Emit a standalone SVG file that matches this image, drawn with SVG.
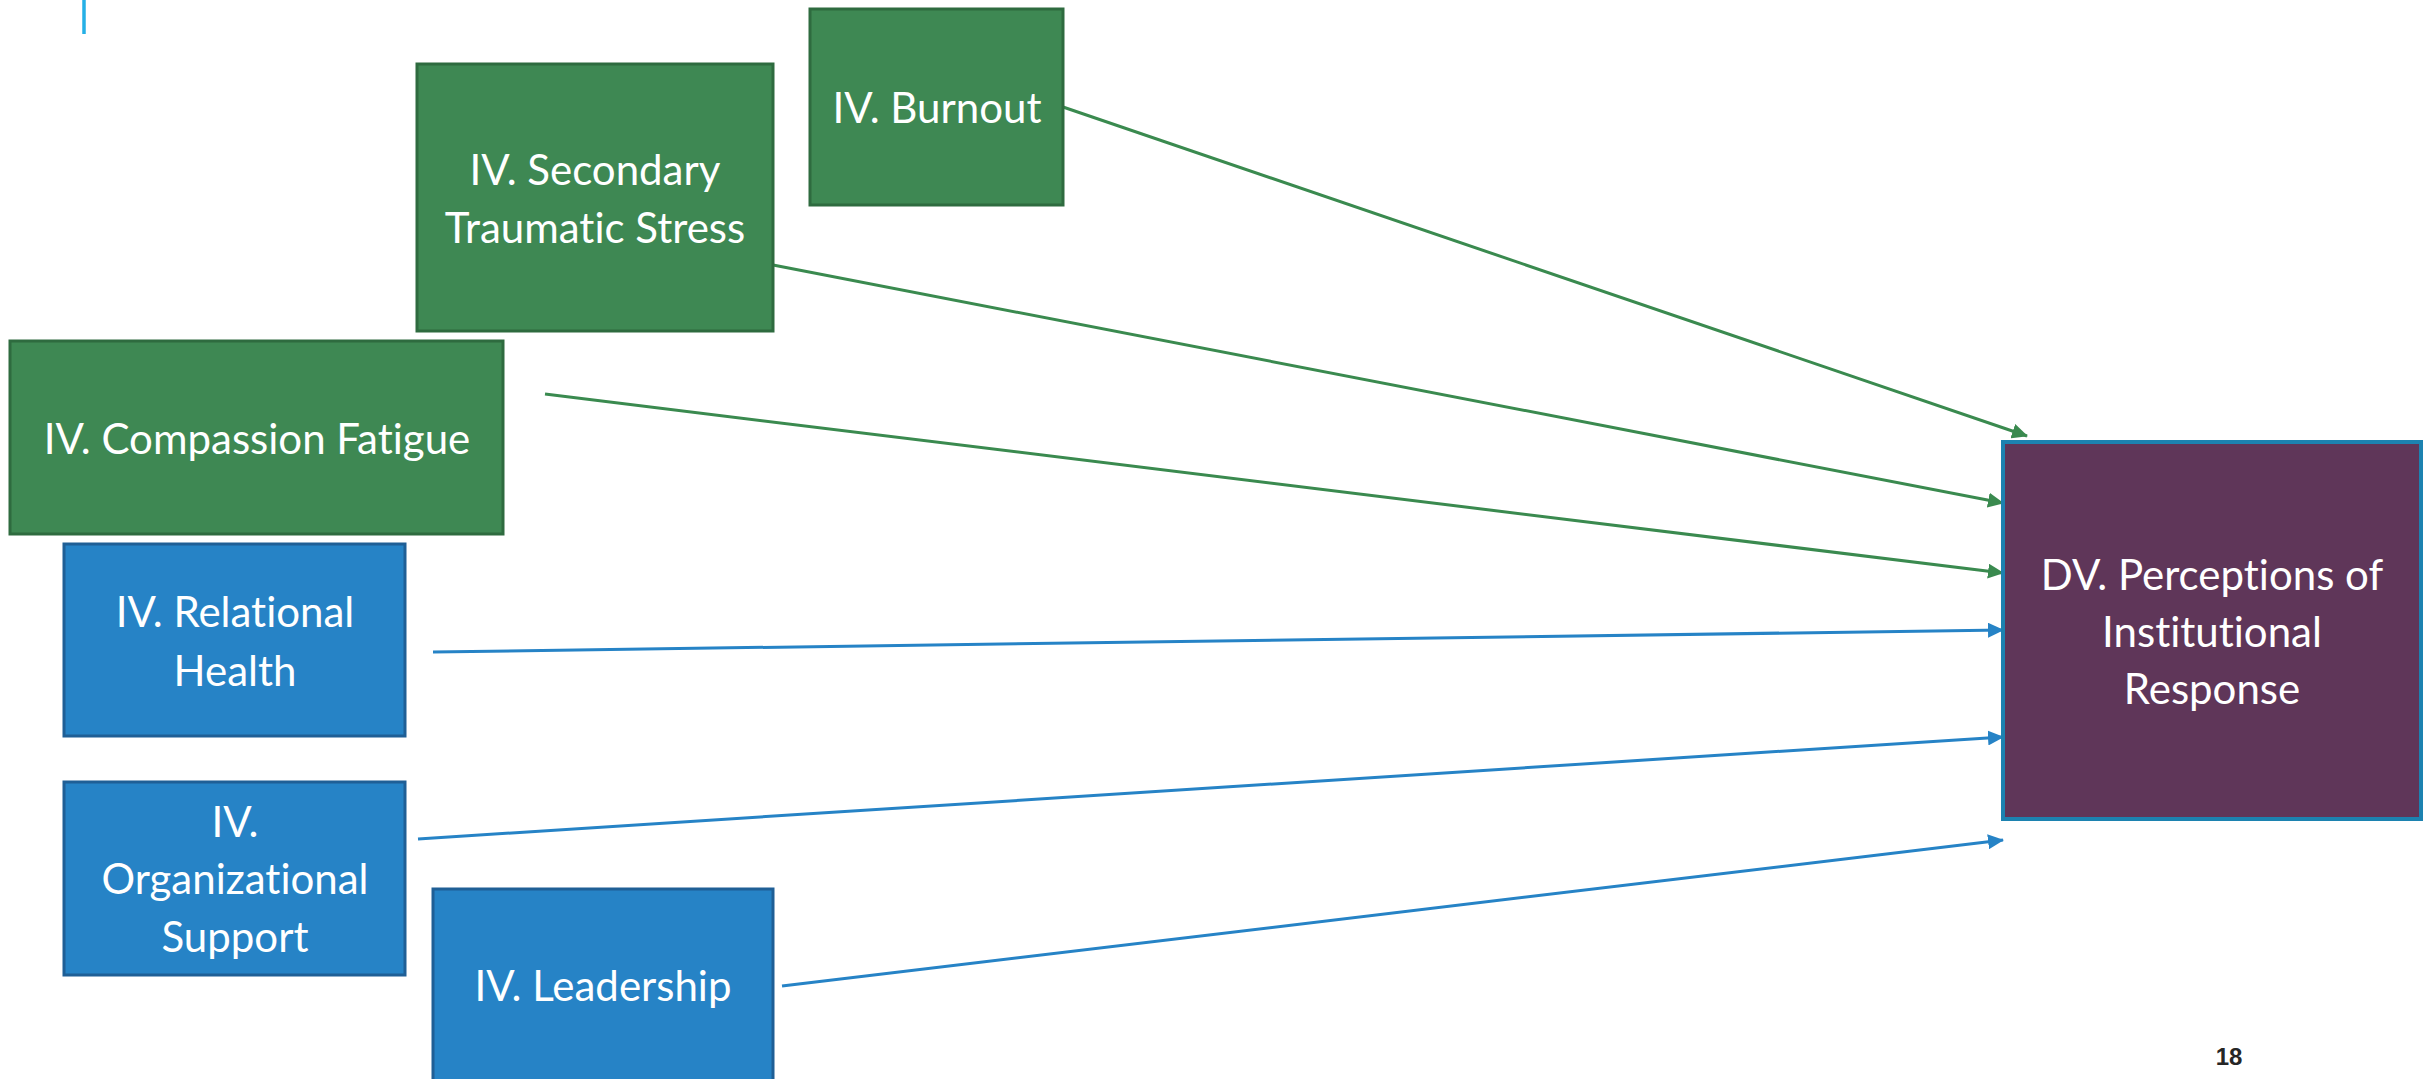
<svg xmlns="http://www.w3.org/2000/svg" width="2430" height="1079" viewBox="0 0 2430 1079">
<style>
.g{fill:#3E8853;stroke:#2E6B3F;stroke-width:3}
.b{fill:#2683C6;stroke:#1F5F96;stroke-width:3}
.dv{fill:#5F3659;stroke:#1C82B0;stroke-width:4}
.t{font-family:Lato,"Open Sans",sans-serif;font-size:42px;fill:#FFFFFF;text-anchor:middle;font-variant-ligatures:none}
.cg{stroke:#3A8A4F;stroke-width:3;fill:none}
.cb{stroke:#2683C6;stroke-width:3;fill:none}
</style>
<defs>
<marker id="ag" viewBox="0 0 16 15" refX="15" refY="7.5" markerWidth="16" markerHeight="15" markerUnits="userSpaceOnUse" orient="auto">
<path d="M0,0 L16,7.5 L0,15 z" fill="#3A8A4F"/>
</marker>
<marker id="ab" viewBox="0 0 16 15" refX="15" refY="7.5" markerWidth="16" markerHeight="15" markerUnits="userSpaceOnUse" orient="auto">
<path d="M0,0 L16,7.5 L0,15 z" fill="#2683C6"/>
</marker>
</defs>
<rect width="2430" height="1079" fill="#FFFFFF"/>
<line x1="84" y1="0" x2="84" y2="34" stroke="#25B0E6" stroke-width="3.5"/>
<g id="connectors">
<line class="cg" x1="1063" y1="107" x2="2027" y2="436" marker-end="url(#ag)"/>
<line class="cg" x1="773" y1="265" x2="2003" y2="503" marker-end="url(#ag)"/>
<line class="cg" x1="545" y1="394" x2="2003" y2="573" marker-end="url(#ag)"/>
<line class="cb" x1="433" y1="652" x2="2003" y2="630" marker-end="url(#ab)"/>
<line class="cb" x1="418" y1="839" x2="2003" y2="737" marker-end="url(#ab)"/>
<line class="cb" x1="782" y1="986" x2="2003" y2="840" marker-end="url(#ab)"/>
</g>
<g id="burnout">
<rect class="g" x="810" y="9" width="253" height="196"/>
<text class="t" x="937" y="123">IV. Burnout</text>
</g>
<g id="secondary">
<rect class="g" x="417" y="64" width="356" height="267"/>
<text class="t" x="595" y="185">IV. Secondary</text>
<text class="t" x="595" y="243">Traumatic Stress</text>
</g>
<g id="compassion">
<rect class="g" x="10" y="341" width="493" height="193"/>
<text class="t" x="257" y="454">IV. Compassion Fatigue</text>
</g>
<g id="relational">
<rect class="b" x="64" y="544" width="341" height="192"/>
<text class="t" x="235" y="627">IV. Relational</text>
<text class="t" x="235" y="686">Health</text>
</g>
<g id="organizational">
<rect class="b" x="64" y="782" width="341" height="193"/>
<text class="t" x="235" y="837">IV.</text>
<text class="t" x="235" y="894">Organizational</text>
<text class="t" x="235" y="952">Support</text>
</g>
<g id="leadership">
<rect class="b" x="433" y="889" width="340" height="205"/>
<text class="t" x="603" y="1001">IV. Leadership</text>
</g>
<g id="dv">
<rect class="dv" x="2003" y="442" width="418" height="377"/>
<text class="t" x="2212" y="590">DV. Perceptions of</text>
<text class="t" x="2212" y="647">Institutional</text>
<text class="t" x="2212" y="704">Response</text>
</g>
<text x="2229" y="1065" font-family="'Liberation Sans Narrow','Liberation Sans',sans-serif" font-size="24" font-weight="bold" fill="#262626" text-anchor="middle">18</text>
</svg>
